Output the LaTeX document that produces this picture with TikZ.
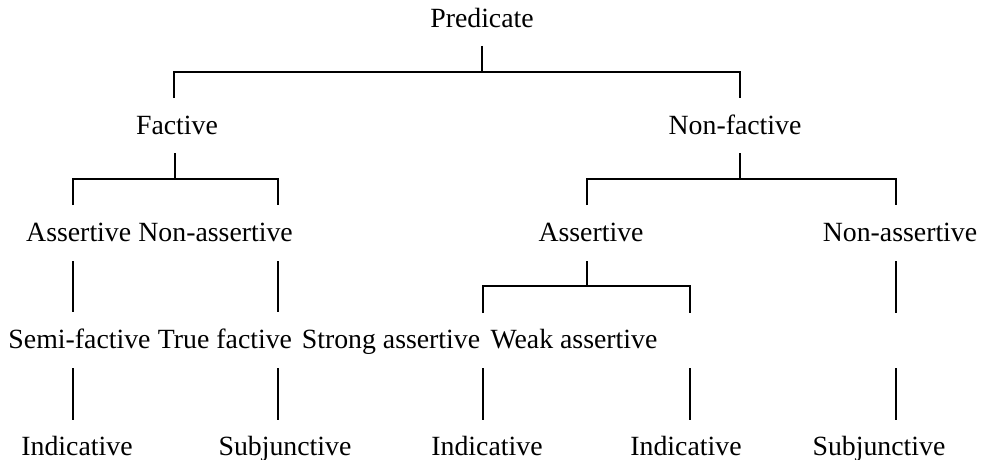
\documentclass[tikz,border=0pt]{standalone}
\usepackage{fontspec}
\setmainfont{Liberation Serif}
\begin{document}
\begin{tikzpicture}[x=1pt,y=-1pt,
  lbl/.style={font=\fontsize{27.8}{30}\selectfont, inner sep=0pt, anchor=base},
  edge/.style={line width=2.7pt, line join=miter, black}]
\useasboundingbox (0,0) rectangle (987,460);
% labels
\node[lbl] (pred) at (482,28) {Predicate};
\node[lbl] (fac) at (177,134) {Factive};
\node[lbl] (nfac) at (735,134) {Non-factive};
\node[lbl,anchor=base west] (fa) at (26,241) {Assertive};
\node[lbl,anchor=base east] (fna) at (293,241) {Non-assertive};
\node[lbl] (na) at (591,241) {Assertive};
\node[lbl] (nna) at (900,241) {Non-assertive};
\node[lbl] (semi) at (79.5,348) {Semi-factive};
\node[lbl] (true) at (225,348) {True factive};
\node[lbl] (strong) at (391,348) {Strong assertive};
\node[lbl] (weak) at (574,348) {Weak assertive};
\node[lbl] (b1) at (77,455) {Indicative};
\node[lbl] (b2) at (285,455) {Subjunctive};
\node[lbl] (b3) at (487,455) {Indicative};
\node[lbl] (b4) at (686,455) {Indicative};
\node[lbl] (b5) at (879,455) {Subjunctive};
% junction coordinates
\coordinate (p0) at (482,46);  \coordinate (p1) at (482,72);
\coordinate (pl) at (174,72);  \coordinate (pr) at (740,72);
\coordinate (pld) at (174,98); \coordinate (prd) at (740,98);
\coordinate (f0) at (175,153); \coordinate (f1) at (175,179);
\coordinate (fl) at (73,179);  \coordinate (fr) at (278,179);
\coordinate (fld) at (73,205); \coordinate (frd) at (278,205);
\coordinate (n0) at (740,153); \coordinate (n1) at (740,179);
\coordinate (nl) at (587,179); \coordinate (nr) at (896,179);
\coordinate (nld) at (587,205); \coordinate (nrd) at (896,205);
\coordinate (a0) at (587,261); \coordinate (a1) at (587,286);
\coordinate (al) at (483,286); \coordinate (ar) at (690,286);
\coordinate (ald) at (483,313); \coordinate (ard) at (690,313);
% tree edges
\draw[edge] (p0) -- (p1);
\draw[edge] (pld) -- (pl) -- (pr) -- (prd);
\draw[edge] (f0) -- (f1);
\draw[edge] (fld) -- (fl) -- (fr) -- (frd);
\draw[edge] (n0) -- (n1);
\draw[edge] (nld) -- (nl) -- (nr) -- (nrd);
\draw[edge] (a0) -- (a1);
\draw[edge] (ald) -- (al) -- (ar) -- (ard);
\coordinate (s1t) at (73,261);  \coordinate (s1b) at (73,312);
\coordinate (s2t) at (278,261); \coordinate (s2b) at (278,312);
\coordinate (s3t) at (896,261); \coordinate (s3b) at (896,313);
\draw[edge] (s1t) -- (s1b);
\draw[edge] (s2t) -- (s2b);
\draw[edge] (s3t) -- (s3b);
\foreach \x/\n in {73/1,278/2,483/3,690/4,896/5}{
  \coordinate (u\n) at (\x,368); \coordinate (d\n) at (\x,420);
  \draw[edge] (u\n) -- (d\n);
}
\end{tikzpicture}
\end{document}
